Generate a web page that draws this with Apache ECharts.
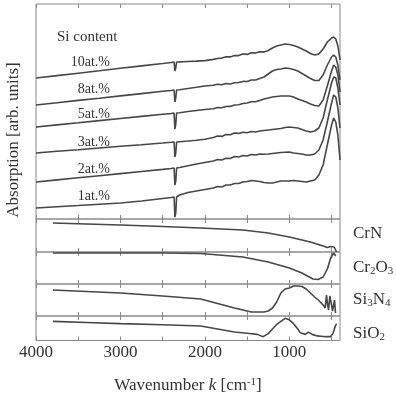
<!DOCTYPE html>
<html><head><meta charset="utf-8">
<script src="https://cdn.jsdelivr.net/npm/echarts@6/dist/echarts.min.js"></script>
<style>html,body{margin:0;padding:0;background:#fff}#c{width:396px;height:395px}</style>
</head><body><div id="c"></div>
<script>
// ---- data ----
const wavenumbers = [4000,3750,3500,3250,3000,2750,2500,2400,2365,2355,2345,2335,2300,2200,2100,2000,1900,1850,1800,1750,1700,1650,1600,1550,1500,1450,1400,1350,1300,1250,1200,1150,1100,1050,1000,950,900,850,800,750,700,650,600,550,500,475,450,425,400];
const si10 = [141,143.4,145.8,148.2,150.7,153.1,155.5,156.5,157,148,151,157,157.1,157.5,157.9,158.4,159.6,160.5,160.9,162.3,162.1,163.5,163.4,165,164.6,166.2,165.9,167.3,167.1,168.5,171,173,174,175,174.5,173.5,172,170,168,165.5,164,165,170,177,181,182,180,173,159];
const si8 = [114,116.3,118.6,120.8,123.1,125.4,127.7,128.5,129,117,121,129,129.3,130.5,131.7,133,133.7,134.8,134.2,135.5,135,136.3,136.5,137.6,137.5,139,139,140.5,142,145,148,149.5,150,151,150.5,149.5,148,145.5,143,140.5,138.5,138.5,144,154,162,164,162,154,139];
const si5 = [92,94.1,96.2,98.4,100.5,102.6,104.7,105.5,106,90,95,106,106.3,107.5,108.5,109.5,110.3,111.5,111.2,112.5,112.6,114,114.2,115.5,116,117.2,117.2,118.5,120,121,122,122.5,123,123,123,122,120,118.5,117,115,113.5,113,119,133,148,154,152,144,127];
const si3 = [66,67.7,69.3,71,72.7,74.3,76,76.7,77,62,66,77,77.3,78,78.8,79.8,81.5,83,82.6,84.5,84.2,86,85.6,86.8,86.3,87.5,87,88,88.5,89,89.5,90,90.5,91.5,92,91.5,91,89.5,88,87,88,91,101,119,136,142,141,131,114];
const si2 = [37,39.1,41.2,43.3,45.4,47.5,49.6,50.5,51,34,38,51,51.5,53.3,55,56.5,58,59.5,59,60.8,60.5,62.5,62,63.5,63,64.5,64,65,64.8,65,65.5,66,66.5,66.8,67,66,65.5,65,64,64,65,69,79,97,116,124,122,111,91];
const si1 = [11,12.3,13.5,14.8,16,18,20.5,21.5,22,2,6,22,24,26.5,28,29.5,31,32.5,32,34,34,35.5,35.5,37,37.5,38.5,38,37.5,36.5,36,36,37,38,38,38,38.5,38,37.5,37,38,39,44,54,74,94,101,97,84,59];
const sampleLabels = ['10at.%','8at.%','5at.%','3at.%','2at.%','1at.%'];

const kCrN = [3800,3400,3000,2500,2050,1550,1250,1000,750,600,550,510,490,470,440];
const crN  = [29,28,27,25.5,24,22,19,15,10,6,4.5,5.5,7,5,0];
const kCr2O3 = [3800,3000,2500,2050,1550,1250,1000,850,720,660,600,550,510,475,450];
const cr2O3  = [31,31,31,30.5,27,22,16,11,5,4.5,7,15,26,31,28];
const kSi3N4 = [3800,3400,3000,2500,2050,1850,1650,1450,1300,1250,1200,1150,1100,1050,1000,950,900,850,800,750,700,650,600,575,560,548,536,520,501,488,477,465,453];
const si3N4  = [26,24.5,23,20,17,12.5,8,4,4,5,8,14,23,27,28,30,30,29.5,27,23,19,15.5,11,8,21,12,6,20,18,5,3,16,3];
const kSiO2 = [3800,3400,3000,2500,2050,1850,1650,1500,1380,1310,1250,1200,1150,1100,1050,1000,950,900,870,810,775,730,670,570,510,480,455,440];
const siO2  = [25,23.5,22,20.5,19,15,11,9.5,8,5,9,15,21,25,29,27,22,15,10,8,11,8,6,5,5,10,19,22];

const tickValues = [500,1000,1500,2000,2500,3000,3500,4000];
const labelValues = [1000,2000,3000,4000];

// ---- chart ----
const FONT = "'Liberation Serif','DejaVu Serif',serif";
const LINE = '#474747';
const AX = '#8a8a8a';
const zip = (xs, ys) => xs.map((x, i) => [x, ys[i]]);

const gridDefs = [
  {top: 4, height: 215, ymax: 215},
  {top: 219, height: 33, ymax: 33},
  {top: 252, height: 32, ymax: 32},
  {top: 284, height: 32, ymax: 32},
  {top: 316, height: 32, ymax: 32}
];
const grid = gridDefs.map(g => ({left: 36, width: 304, top: g.top, height: g.height,
  show: true, borderColor: AX, borderWidth: 1, backgroundColor: 'transparent'}));

const xAxis = [];
gridDefs.forEach((g, i) => {
  ['bottom', 'top'].forEach(pos => {
    const isMain = (i === 4 && pos === 'bottom');
    xAxis.push({
      type: 'value', gridIndex: i, position: pos, min: 400, max: 4000, inverse: true,
      axisLine: {show: false},
      axisTick: {show: true, inside: true, length: 4, customValues: tickValues, lineStyle: {color: AX}},
      splitLine: {show: false},
      axisLabel: isMain ? {show: true, customValues: labelValues, margin: 4, color: '#333',
        fontFamily: FONT, fontSize: 17, formatter: v => String(v)} : {show: false},
      name: isMain ? '{n|Wavenumber }{i|k}{n| [cm}{s|-1}{n|]}' : '',
      nameLocation: 'middle', nameGap: 36,
      nameTextStyle: {rich: {
        n: {fontFamily: FONT, fontSize: 17, color: '#333', lineHeight: 18},
        i: {fontFamily: FONT, fontSize: 17, color: '#333', fontStyle: 'italic', lineHeight: 18},
        s: {fontFamily: FONT, fontSize: 11, color: '#333', lineHeight: 6, verticalAlign: 'top'}
      }}
    });
  });
});
const yAxis = gridDefs.map((g, i) => ({type: 'value', gridIndex: i, min: 0, max: g.ymax, show: false}));

const mk = (data, gi) => ({type: 'line', xAxisIndex: gi * 2, yAxisIndex: gi, data, showSymbol: false,
  symbol: 'none', lineStyle: {color: LINE, width: 1.6}, silent: true, animation: false, clip: true});

const series = [si10, si8, si5, si3, si2, si1].map(v => mk(zip(wavenumbers, v), 0));
series.push(mk(zip(kCrN, crN), 1));
series.push(mk(zip(kCr2O3, cr2O3), 2));
series.push(mk(zip(kSi3N4, si3N4), 3));
series.push(mk(zip(kSiO2, siO2), 4));

const labelY = [62, 89, 114, 142, 169, 196];
const graphic = [
  {type: 'text', left: 57, top: 30, style: {text: 'Si content', font: '15px ' + FONT, fill: '#333'}},
  {type: 'text', x: 14, y: 140, rotation: Math.PI / 2,
    style: {text: 'Absorption [arb. units]', font: '17px ' + FONT, fill: '#333', align: 'center', verticalAlign: 'middle'}}
].concat(sampleLabels.map((t, i) => ({type: 'text', x: 110, y: labelY[i],
  style: {text: t, font: '14px ' + FONT, fill: '#333', align: 'right', verticalAlign: 'middle'}})));

const richSub = {
  n: {fontFamily: FONT, fontSize: 17, fontWeight: 'normal', color: '#333', lineHeight: 18},
  s: {fontFamily: FONT, fontSize: 11, fontWeight: 'normal', color: '#333', lineHeight: 6, verticalAlign: 'bottom'}
};
const refLabels = [
  {text: '{n|CrN}', top: 225},
  {text: '{n|Cr}{s|2}{n|O}{s|3}', top: 259},
  {text: '{n|Si}{s|3}{n|N}{s|4}', top: 291},
  {text: '{n|SiO}{s|2}', top: 325}
];
const title = refLabels.map(r => ({text: r.text, left: 353, top: r.top, padding: 0,
  textStyle: {fontWeight: 'normal', rich: richSub}}));

const chart = echarts.init(document.getElementById('c'), null, {renderer: 'canvas'});
chart.setOption({animation: false, backgroundColor: '#fff', title, grid, xAxis, yAxis, series, graphic});
</script></body></html>
